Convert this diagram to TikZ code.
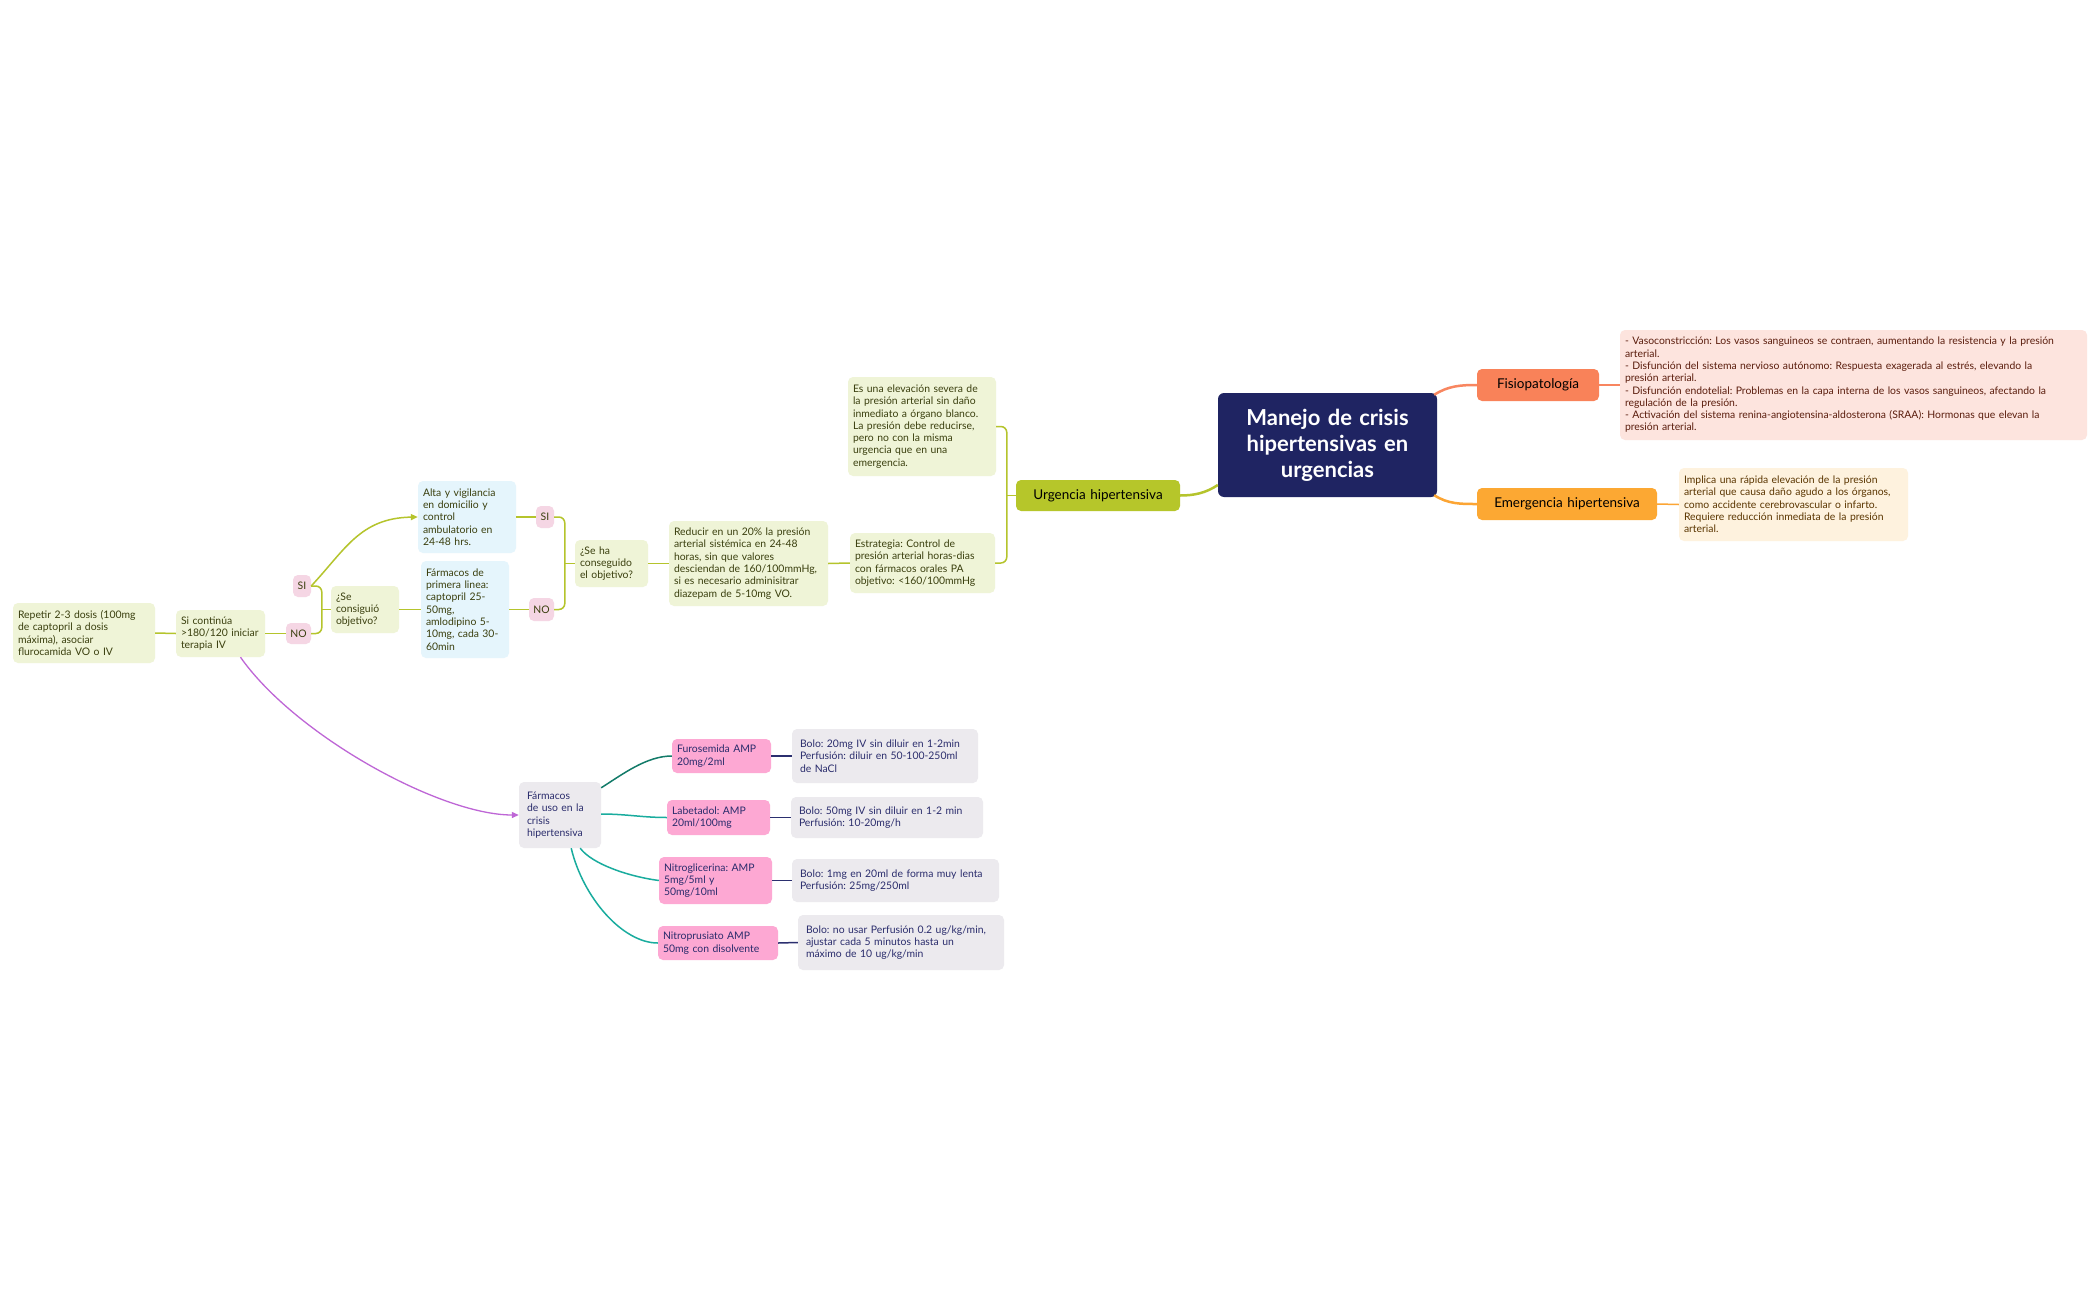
\documentclass[tikz,border=0pt]{standalone}
\usepackage{fontspec}
\setmainfont{Lato}
\usetikzlibrary{arrows.meta}
\frenchspacing
\definecolor{navy}{HTML}{1F2462}
\definecolor{fisiofill}{HTML}{F98259}
\definecolor{emergfill}{HTML}{FCA833}
\definecolor{fisiodesc}{HTML}{FDE4DE}
\definecolor{fisiotext}{HTML}{5A1C0C}
\definecolor{emergdesc}{HTML}{FEF2DE}
\definecolor{emergtext}{HTML}{5A3500}
\definecolor{urgfill}{HTML}{B6C62A}
\definecolor{gfill}{HTML}{EFF4D7}
\definecolor{gtext}{HTML}{3A3F0E}
\definecolor{bfill}{HTML}{E5F5FC}
\definecolor{sinofill}{HTML}{F5D6E4}
\definecolor{greyfill}{HTML}{ECEAEE}
\definecolor{pinkfill}{HTML}{FDA8D3}
\definecolor{navytext}{HTML}{2A2C6C}
\definecolor{gline}{HTML}{B5C42C}
\definecolor{purp}{HTML}{BE66D6}
\definecolor{teal}{HTML}{19AC9E}
\definecolor{dteal}{HTML}{137B69}
\definecolor{navyline}{HTML}{2B2F6F}
\definecolor{fisioline}{HTML}{F88660}
\definecolor{emergline}{HTML}{FCA534}
\begin{document}
\frenchspacing
\begin{tikzpicture}[x=1pt,y=-1pt,
  sz/.style n args={3}{minimum width=#1, minimum height=#2, text width=#3},
  base/.style={rounded corners=5pt, inner xsep=5pt, inner ysep=2pt, align=left,
    font=\fontsize{10.4}{12.3}\selectfont\frenchspacing},
  gbox/.style={base, fill=gfill, text=gtext},
  bbox/.style={base, fill=bfill, text=gtext},
  greybox/.style={base, inner xsep=8pt, fill=greyfill, text=navytext},
  pinkbox/.style={base, fill=pinkfill, text=navytext},
  sino/.style={rounded corners=5pt, fill=sinofill, text=gtext, inner sep=0pt,
    font=\fontsize{10.4}{12}\selectfont},
  lone/.style={rounded corners=5pt, inner sep=0pt, align=center, text=black,
    font=\fontsize{13.5}{16}\selectfont},
  central/.style={rounded corners=6pt, fill=navy, text=white, align=center,
    inner sep=0pt, font=\fontsize{22}{26}\selectfont\bfseries},
  gl/.style={draw=gline, line width=1.5pt},
  tl/.style={draw=teal, line width=1.5pt},
  nl/.style={draw=navyline, line width=1.5pt},
]
\useasboundingbox[fill=white] (0,0) rectangle (2098,1300);

% central and level 1
\node[central, sz={219pt}{104pt}{205pt}] (central) at (1327.5,445) {Manejo de crisis\\hipertensivas en\\urgencias};
\node[lone, fill=fisiofill, sz={122pt}{32pt}{112pt}] (fisio) at (1538,385) {Fisiopatología};
\node[lone, fill=emergfill, sz={180pt}{32pt}{170pt}] (emerg) at (1567,504) {Emergencia hipertensiva};
\node[lone, fill=urgfill, sz={164pt}{31pt}{154pt}] (urg) at (1098,495.5) {Urgencia hipertensiva};

\node[base, fill=fisiodesc, text=fisiotext, sz={467pt}{110pt}{457pt}] (fisiod) at (1853.5,385)
 {- Vasoconstricción: Los vasos sanguineos se contraen, aumentando la resistencia y la presión\\arterial.\\- Disfunción del sistema nervioso autónomo: Respuesta exagerada al estrés, elevando la\\presión arterial.\\- Disfunción endotelial: Problemas en la capa interna de los vasos sanguineos, afectando la\\regulación de la presión.\\- Activación del sistema renina-angiotensina-aldosterona (SRAA): Hormonas que elevan la\\presión arterial.};
\node[base, fill=emergdesc, text=emergtext, sz={229pt}{73pt}{219pt}] (emergd) at (1793.5,504.5)
 {Implica una rápida elevación de la presión\\arterial que causa daño agudo a los órganos,\\como accidente cerebrovascular o infarto.\\Requiere reducción inmediata de la presión\\arterial.};

% urgencia branch
\node[gbox, sz={148pt}{99pt}{138pt}] (esuna) at (922,426.5)
 {Es una elevación severa de\\la presión arterial sin daño\\inmediato a órgano blanco.\\La presión debe reducirse,\\pero no con la misma\\urgencia que en una\\emergencia.};
\node[gbox, sz={145pt}{60pt}{135pt}] (estr) at (922.5,563)
 {Estrategia: Control de\\presión arterial horas-dias\\con fármacos orales PA\\objetivo: <160/100mmHg};
\node[gbox, sz={159pt}{85pt}{149pt}] (reducir) at (748.5,563.5)
 {Reducir en un 20\% la presión\\arterial sistémica en 24-48\\horas, sin que valores\\desciendan de 160/100mmHg,\\si es necesario adminisitrar\\diazepam de 5-10mg VO.};
\node[gbox, sz={73pt}{47pt}{63pt}] (seha) at (611.5,563.5) {¿Se ha\\conseguido\\el objetivo?};
\node[sino, minimum width=18pt, minimum height=22pt] (si1) at (545,517) {SI};
\node[sino, minimum width=25pt, minimum height=23pt] (no1) at (541.5,609.5) {NO};
\node[bbox, sz={98pt}{72pt}{88pt}] (alta) at (467,517)
 {Alta y vigilancia\\en domicilio y\\control\\ambulatorio en\\24-48 hrs.};
\node[bbox, sz={88pt}{97pt}{78pt}] (farm1) at (465,609.5)
 {Fármacos de\\primera linea:\\captopril 25-\\50mg,\\amlodipino 5-\\10mg, cada 30-\\60min};
\node[gbox, sz={68pt}{47pt}{58pt}] (secons) at (365,609.5) {¿Se\\consiguió\\objetivo?};
\node[sino, minimum width=18pt, minimum height=22pt] (si2) at (302,586) {SI};
\node[sino, minimum width=25pt, minimum height=21pt] (no2) at (298.5,633.5) {NO};
\node[gbox, sz={89pt}{47pt}{79pt}] (sicont) at (220.5,633.5) {Si continúa\\>180/120 iniciar\\terapia IV};
\node[gbox, sz={142pt}{60pt}{132pt}] (repetir) at (84,633)
 {Repetir 2-3 dosis (100mg\\de captopril a dosis\\máxima), asociar\\flurocamida VO o IV};

% farmacos
\node[greybox, sz={82pt}{66pt}{66pt}] (farmuso) at (560,815) {Fármacos\\de uso en la\\crisis\\hipertensiva};
\node[pinkbox, sz={99pt}{34pt}{89pt}] (furo) at (721.5,756) {Furosemida AMP\\20mg/2ml};
\node[pinkbox, sz={103pt}{35pt}{93pt}] (labe) at (718.5,817.5) {Labetadol: AMP\\20ml/100mg};
\node[pinkbox, sz={113pt}{47pt}{103pt}] (nitrog) at (715.5,880.5) {Nitroglicerina: AMP\\5mg/5ml y\\50mg/10ml};
\node[pinkbox, sz={120pt}{34pt}{110pt}] (nitrop) at (718,943) {Nitroprusiato AMP\\50mg con disolvente};
\node[greybox, sz={186pt}{54pt}{170pt}] (furod) at (885,756)
 {Bolo: 20mg IV sin diluir en 1-2min\\Perfusión: diluir en 50-100-250ml\\de NaCl};
\node[greybox, sz={192pt}{41pt}{176pt}] (labed) at (887,817.5)
 {Bolo: 50mg IV sin diluir en 1-2 min\\Perfusión: 10-20mg/h};
\node[greybox, sz={207pt}{43pt}{191pt}] (nitrogd) at (895.5,880.5)
 {Bolo: 1mg en 20ml de forma muy lenta\\Perfusión: 25mg/250ml};
\node[greybox, sz={206pt}{55pt}{190pt}] (nitropd) at (901,942.5)
 {Bolo: no usar Perfusión 0.2 ug/kg/min,\\ajustar cada 5 minutos hasta un\\máximo de 10 ug/kg/min};

% main branches
\draw[fisioline, line width=2.5pt] ([xshift=-3pt,yshift=-2pt]central.north east) .. controls +(14,-9) and +(-16,0) .. (fisio.west);
\draw[emergline, line width=2.5pt] ([xshift=-3pt,yshift=2pt]central.south east) .. controls +(14,9) and +(-16,0) .. (emerg.west);
\draw[gline, line width=2.5pt] ([yshift=-40pt]central.west) .. controls +(-12,8) and +(14,0) .. (urg.east);
\draw[fisioline, line width=1.5pt] (fisio.east) -- (fisiod.west);
\draw[emergline, line width=1.5pt] (emerg.east) -- (emergd.west);

% urgencia tree
\draw[gl] (urg.west) -- ++(-9,0);
\draw[gl, rounded corners=6pt] (esuna.east) -| ([xshift=-9pt]urg.west) |- (estr.east);
\draw[gl] (estr.west) -- (reducir.east);
\draw[gl] (reducir.west) -- (seha.east);
\draw[gl] (seha.west) -- ++(-10,0);
\draw[gl, rounded corners=6pt] (si1.east) -| ([xshift=-10pt]seha.west) |- (no1.east);
\draw[gl] (si1.west) -- (alta.east);
\draw[gl] (no1.west) -- (farm1.east);
\draw[gl] (farm1.west) -- (secons.east);
\draw[gl] (secons.west) -- ++(-9,0);
\draw[gl, rounded corners=6pt] (si2.east) -| ([xshift=-9pt]secons.west) |- (no2.east);
\draw[gl] (no2.west) -- (sicont.east);
\draw[gl] (sicont.west) -- (repetir.east);

% relationship arrows
\draw[gl, -{Triangle[length=7pt,width=6pt]}] (si2.east) .. controls (345,550) and (360,518) .. (alta.west);
\draw[purp, line width=1.3pt, -{Triangle[length=7pt,width=6pt]}] ([xshift=20pt]sicont.south) .. controls (295,735) and (440,815) .. (farmuso.west);

% farmacos branches
\draw[dteal, line width=1.5pt] ([yshift=-6pt]farmuso.north east) .. controls +(22,-14) and +(-25,0) .. (furo.west);
\draw[tl] ([yshift=1pt]farmuso.east) .. controls +(25,0) and +(-25,0) .. (labe.west);
\draw[tl] ([xshift=-21pt]farmuso.south east) .. controls +(12,16) and +(-30,-4) .. (nitrog.west);
\draw[tl] ([xshift=-30pt]farmuso.south east) .. controls +(12,50) and +(-35,0) .. (nitrop.west);
\draw[nl] (furo.east) -- (furod.west);
\draw[nl] (labe.east) -- (labed.west);
\draw[nl] (nitrog.east) -- (nitrogd.west);
\draw[nl] (nitrop.east) -- (nitropd.west);
\end{tikzpicture}
\end{document}
